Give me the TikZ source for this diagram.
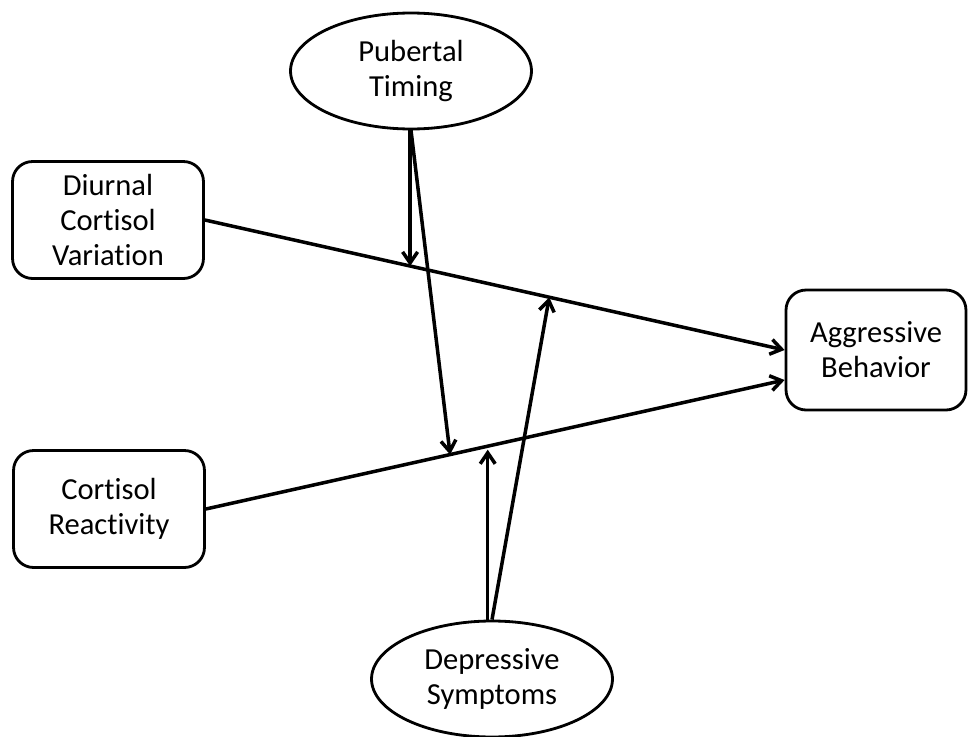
\documentclass[tikz,border=0pt]{standalone}
\usepackage{fontspec}
\setmainfont{Carlito}[Ligatures=NoCommon]
\usetikzlibrary{arrows.meta,shapes.geometric}

\tikzset{
  varbox/.style={draw, line width=1.6pt, rounded corners=0.4cm, align=center,
    minimum width=3.82cm, minimum height=2.34cm, inner sep=0pt,
    font=\fontsize{17.4}{20}\selectfont},
  varoval/.style={draw, ellipse, line width=1.6pt, align=center,
    minimum width=4.82cm, minimum height=2.32cm, inner sep=0pt,
    font=\fontsize{17.4}{20}\selectfont},
  effect/.style={line width=2pt, -{Straight Barb[length=0.22cm, width=0.3cm, line width=2pt]}}
}

\begin{document}
\begin{tikzpicture}[x=0.02cm, y=-0.02cm]
\useasboundingbox (0,0) rectangle (968,737);
\node[varoval] (pt) at (411,71) {Pubertal\\Timing};
\node[varbox] (dcv) at (108,220) {Diurnal\\Cortisol\\Variation};
\node[varbox] (cr) at (109,509) {Cortisol\\Reactivity};
\node[varbox, minimum width=3.6cm, minimum height=2.4cm] (ab) at (876,350) {Aggressive\\Behavior};
\node[varoval] (ds) at (492,679) {Depressive\\Symptoms};

\draw[effect] (dcv.east) -- coordinate[pos=.354] (m1) coordinate[pos=.594] (m2) (ab.west);
\draw[effect] (cr.east) -- coordinate[pos=.422] (m3) coordinate[pos=.487] (m4) ([yshift=-0.6cm]ab.west);
\draw[effect] (pt.south -| m1) -- (m1);
\draw[effect] (pt.south) -- (m3);
\draw[effect, shorten >=2pt] (ds.north -| m4) -- (m4);
\draw[effect] (ds.north) -- (m2);
\end{tikzpicture}
\end{document}
